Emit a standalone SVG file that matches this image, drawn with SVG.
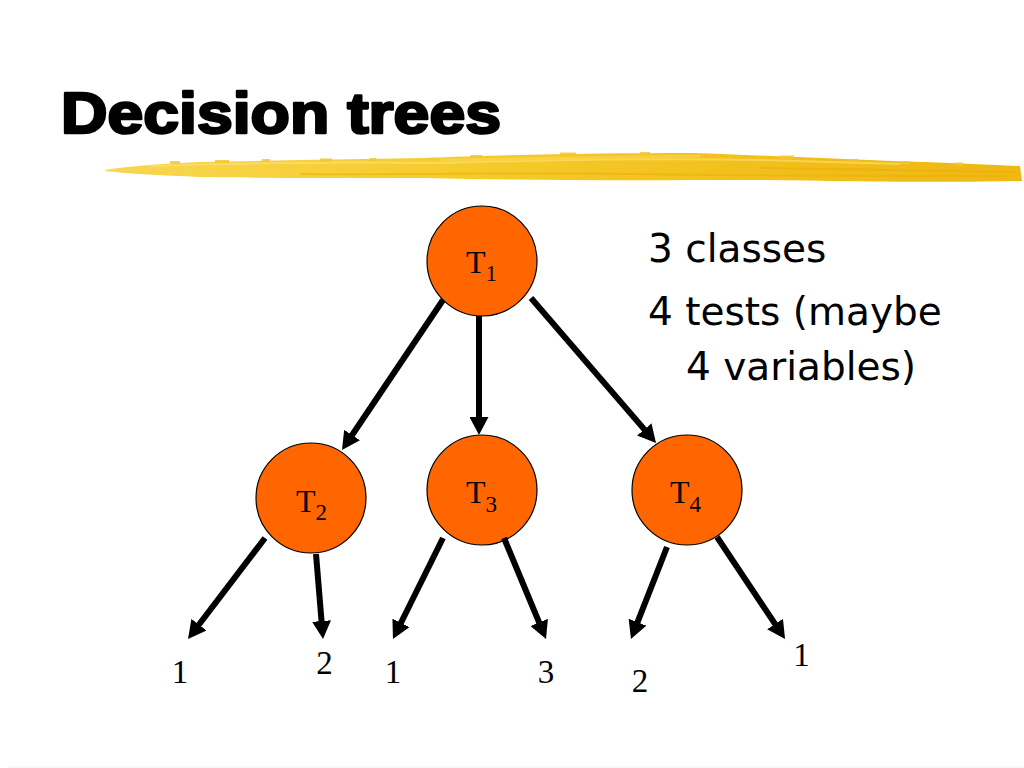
<svg xmlns="http://www.w3.org/2000/svg" width="1024" height="768" viewBox="0 0 1024 768">
  <defs>
    <linearGradient id="brush" x1="0" y1="0" x2="1" y2="0">
      <stop offset="0" stop-color="#F8D650"/>
      <stop offset="0.35" stop-color="#F6CC2E"/>
      <stop offset="0.7" stop-color="#F2C01C"/>
      <stop offset="1" stop-color="#EFB812"/>
    </linearGradient>
    <marker id="head" markerUnits="userSpaceOnUse" markerWidth="18" markerHeight="19" refX="8" refY="9.5" orient="auto" viewBox="0 0 18 19">
      <path d="M0,0 L18,9.5 L0,19 Z" fill="#000"/>
    </marker>
  </defs>
  <style>
    .node { fill: #FF6600; stroke: #000; stroke-width: 1.2; }
    .nlabel { font-family: "Liberation Serif", "Times New Roman", serif; font-size: 32px; fill: #000; }
    .sub { font-size: 23px; }
    .leaf { font-family: "Liberation Serif", "Times New Roman", serif; font-size: 33px; fill: #000; text-anchor: middle; }
    .edge { stroke: #000; stroke-width: 6; fill: none; marker-end: url(#head); }
    .note { font-family: "DejaVu Sans", Verdana, sans-serif; font-size: 39px; fill: #000; }
    .title { font-family: "Liberation Sans", Arial, sans-serif; font-weight: bold; font-size: 57px; fill: #000; stroke: #000; stroke-width: 2.6; stroke-linejoin: round; }
  </style>

  <rect width="1024" height="768" fill="#FFFFFF"/>

  <!-- title -->
  <text class="title" x="61" y="133" textLength="440" lengthAdjust="spacingAndGlyphs">Decision trees</text>

  <!-- yellow brush stroke -->
  <g id="brush-stroke">
    <path d="M105,170 C130,166 160,164 200,162 L300,160 L425,158 C500,155 600,153 694,153 C760,155 850,160 950,163 L1020,166 L1022,181 C950,183 850,181 760,180 C650,180 550,181 425,178 C330,178 250,178 200,177 C160,175 130,174 105,171 Z" fill="url(#brush)"/>
    <path d="M150,166 C250,163 350,162 440,163 C560,160 650,158 760,160 L900,164" stroke="#FBE27A" stroke-width="2" fill="none" opacity="0.6"/>
    <path d="M300,174 C420,175 520,172 640,174 C760,176 880,176 1010,176" stroke="#E9AE08" stroke-width="2" fill="none" opacity="0.5"/>
    <path d="M440,160 L700,156" stroke="#F9DC5C" stroke-width="3" fill="none" opacity="0.5"/>
    <path d="M760,168 L1015,172" stroke="#EAA800" stroke-width="2" fill="none" opacity="0.45"/>
    <g fill="#F4C630" opacity="0.85">
      <rect x="170" y="161" width="10" height="3"/>
      <rect x="215" y="160" width="14" height="3"/>
      <rect x="262" y="159" width="8" height="3"/>
      <rect x="320" y="158.5" width="12" height="3"/>
      <rect x="370" y="158" width="6" height="3"/>
      <rect x="470" y="155" width="12" height="3"/>
      <rect x="560" y="152.5" width="16" height="3"/>
      <rect x="640" y="152" width="10" height="3"/>
      <rect x="780" y="155.5" width="14" height="3"/>
      <rect x="850" y="159" width="8" height="3"/>
      <rect x="900" y="161" width="10" height="3"/>
      <rect x="955" y="162.5" width="8" height="3"/>
    </g>
  </g>

  <!-- nodes -->
  <g id="node-T1">
    <circle class="node" cx="482" cy="261" r="55"/>
    <text class="nlabel" x="466" y="273">T<tspan class="sub" dy="8">1</tspan></text>
  </g>
  <g id="node-T2">
    <circle class="node" cx="311" cy="498" r="55"/>
    <text class="nlabel" x="296" y="512">T<tspan class="sub" dy="8">2</tspan></text>
  </g>
  <g id="node-T3">
    <circle class="node" cx="482" cy="490" r="55"/>
    <text class="nlabel" x="466" y="503">T<tspan class="sub" dy="9">3</tspan></text>
  </g>
  <g id="node-T4">
    <circle class="node" cx="687" cy="490" r="55"/>
    <text class="nlabel" x="670" y="503">T<tspan class="sub" dy="9">4</tspan></text>
  </g>

  <!-- connectors -->
  <g id="connectors">
    <line class="edge" x1="443" y1="300" x2="347.6" y2="441.7"/>
    <line class="edge" x1="479" y1="316" x2="479" y2="425"/>
    <line class="edge" x1="531" y1="298" x2="649.5" y2="435.4"/>
    <line class="edge" x1="265" y1="538" x2="194.1" y2="631"/>
    <line class="edge" x1="316" y1="554" x2="322.2" y2="629"/>
    <line class="edge" x1="443" y1="538" x2="397.4" y2="630"/>
    <line class="edge" x1="504" y1="538" x2="542.2" y2="629.8"/>
    <line class="edge" x1="667" y1="547" x2="634.6" y2="629.7"/>
    <line class="edge" x1="717" y1="537" x2="779.5" y2="630.7"/>
  </g>

  <!-- leaf labels -->
  <g id="leaves">
    <text class="leaf" x="180" y="683">1</text>
    <text class="leaf" x="324.5" y="674">2</text>
    <text class="leaf" x="393" y="683">1</text>
    <text class="leaf" x="546" y="683">3</text>
    <text class="leaf" x="640" y="692">2</text>
    <text class="leaf" x="801.5" y="666">1</text>
  </g>

  <!-- notes -->
  <g id="notes">
    <text class="note" x="648" y="262">3 classes</text>
    <text class="note" x="648" y="325">4 tests (maybe</text>
    <text class="note" x="686" y="380">4 variables)</text>
  </g>

  <line x1="8" y1="767" x2="1024" y2="767" stroke="#EEEEEE" stroke-width="1"/>
</svg>
